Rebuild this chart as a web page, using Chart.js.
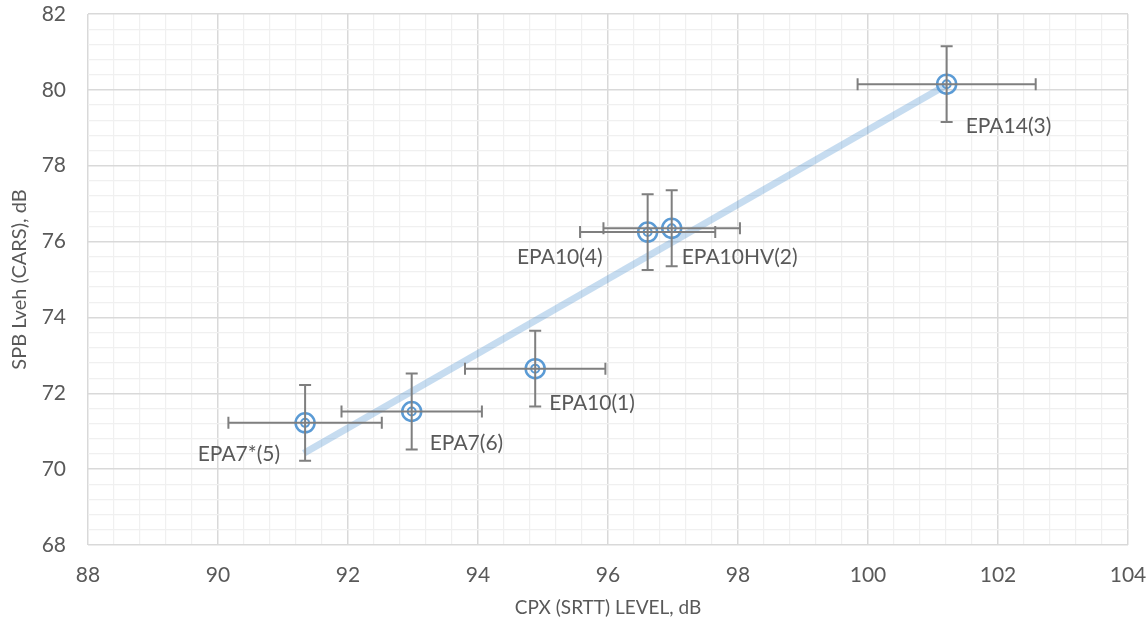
<!DOCTYPE html>
<html>
<head>
<meta charset="utf-8">
<script src="https://cdn.jsdelivr.net/npm/chart.js@4"></script>
<style>
  html, body { margin: 0; padding: 0; background: #fff; }
  #wrap { width: 1148px; height: 627px; position: relative; }
</style>
</head>
<body>
<div id="wrap"><canvas id="chart"></canvas></div>
<script>
// data
const labels = ['EPA7*(5)', 'EPA7(6)', 'EPA10(1)', 'EPA10(4)', 'EPA10HV(2)', 'EPA14(3)'];
const cpx = [91.34, 92.98, 94.88, 96.61, 96.98, 101.21];
const spb = [71.22, 71.52, 72.65, 76.25, 76.35, 80.15];
const xErr = [1.18, 1.08, 1.08, 1.04, 1.05, 1.37];
const yErr = [1.0, 1.0, 1.0, 1.0, 1.0, 1.0];
// trendline end points
const trendX = [91.32, 101.2];
const trendY = [70.42, 80.12];

// label placement relative to the marker (px); negative dx = text ends left of marker
const labelDx = [-25, 18, 14, -45, 10, 19];
const labelDy = [31, 32, 35, 25, 29, 42];

const xTicks = { min: 88, max: 104, major: 2, minor: 0.4 };
const yTicks = { min: 68, max: 82, major: 2, minor: 0.4 };

const FONT = 'Lato, "Open Sans", sans-serif';
const TEXT = '#595959';

const points = cpx.map((x, i) => ({ x: x, y: spb[i] }));
const trend = trendX.map((x, i) => ({ x: x, y: trendY[i] }));

const isMajor = (v, step) => Math.abs(v / step - Math.round(v / step)) < 1e-6;

// error bars + data labels
const extras = {
  id: 'extras',
  afterDatasetsDraw(chart) {
    const ctx = chart.ctx;
    const xs = chart.scales.x, ys = chart.scales.y;
    ctx.save();
    ctx.strokeStyle = '#7f7f7f';
    ctx.lineWidth = 2;
    const cap = 6;
    points.forEach((p, i) => {
      const px = xs.getPixelForValue(p.x), py = ys.getPixelForValue(p.y);
      const x1 = xs.getPixelForValue(p.x - xErr[i]), x2 = xs.getPixelForValue(p.x + xErr[i]);
      const y1 = ys.getPixelForValue(p.y + yErr[i]), y2 = ys.getPixelForValue(p.y - yErr[i]);
      ctx.beginPath();
      ctx.moveTo(x1, py); ctx.lineTo(x2, py);
      ctx.moveTo(x1, py - cap); ctx.lineTo(x1, py + cap);
      ctx.moveTo(x2, py - cap); ctx.lineTo(x2, py + cap);
      ctx.moveTo(px, y1); ctx.lineTo(px, y2);
      ctx.moveTo(px - cap, y1); ctx.lineTo(px + cap, y1);
      ctx.moveTo(px - cap, y2); ctx.lineTo(px + cap, y2);
      ctx.stroke();
    });
    ctx.fillStyle = TEXT;
    ctx.font = '21px ' + FONT;
    ctx.textBaseline = 'middle';
    points.forEach((p, i) => {
      const px = xs.getPixelForValue(p.x), py = ys.getPixelForValue(p.y);
      ctx.textAlign = labelDx[i] < 0 ? 'right' : 'left';
      ctx.fillText(labels[i], px + labelDx[i], py + labelDy[i]);
    });
    ctx.restore();
  }
};

new Chart(document.getElementById('chart'), {
  type: 'scatter',
  data: {
    datasets: [
      {
        type: 'line',
        data: trend,
        borderColor: 'rgba(91,155,213,0.35)',
        borderWidth: 7,
        pointRadius: 0,
        fill: false,
        order: 3
      },
      {
        data: points,
        pointRadius: 9.5,
        pointBorderWidth: 2.5,
        pointBorderColor: '#5b9bd5',
        pointBackgroundColor: 'rgba(0,0,0,0)',
        order: 2
      },
      {
        data: points,
        pointRadius: 4,
        pointBorderWidth: 2,
        pointBorderColor: '#5b9bd5',
        pointBackgroundColor: 'rgba(0,0,0,0)',
        order: 1
      }
    ]
  },
  options: {
    responsive: true,
    maintainAspectRatio: false,
    animation: false,
    layout: { padding: { top: 14, right: 20, left: 0, bottom: 0 } },
    plugins: { legend: { display: false }, tooltip: { enabled: false } },
    scales: {
      x: {
        type: 'linear',
        min: xTicks.min, max: xTicks.max,
        afterFit: s => { s.height = 82; s.paddingLeft = 0; s.paddingRight = 0; },
        border: { display: false },
        grid: {
          color: c => isMajor(c.tick.value, xTicks.major) ? '#d9d9d9' : '#f0f0f0',
          lineWidth: c => isMajor(c.tick.value, xTicks.major) ? 1.5 : 1.2,
          drawTicks: false
        },
        ticks: {
          stepSize: xTicks.minor,
          autoSkip: false,
          maxRotation: 0,
          padding: 18,
          color: TEXT,
          font: { family: FONT, size: 21 },
          callback: v => isMajor(v, xTicks.major) ? Math.round(v) : ''
        },
        title: {
          display: true,
          text: 'CPX (SRTT) LEVEL, dB',
          color: TEXT,
          font: { family: FONT, size: 19 },
          padding: { top: 4, bottom: 8 }
        }
      },
      y: {
        type: 'linear',
        min: yTicks.min, max: yTicks.max,
        afterFit: s => { s.width = 88; s.paddingTop = 0; s.paddingBottom = 0; },
        border: { display: false },
        grid: {
          color: c => isMajor(c.tick.value, yTicks.major) ? '#d9d9d9' : '#f0f0f0',
          lineWidth: c => isMajor(c.tick.value, yTicks.major) ? 1.5 : 1.2,
          drawTicks: false
        },
        ticks: {
          stepSize: yTicks.minor,
          autoSkip: false,
          padding: 22,
          color: TEXT,
          font: { family: FONT, size: 21 },
          callback: v => isMajor(v, yTicks.major) ? Math.round(v) : ''
        },
        title: {
          display: true,
          text: 'SPB Lveh (CARS), dB',
          color: TEXT,
          font: { family: FONT, size: 20 },
          padding: { top: 8, bottom: 4 }
        }
      }
    }
  },
  plugins: [extras]
});
</script>
</body>
</html>
